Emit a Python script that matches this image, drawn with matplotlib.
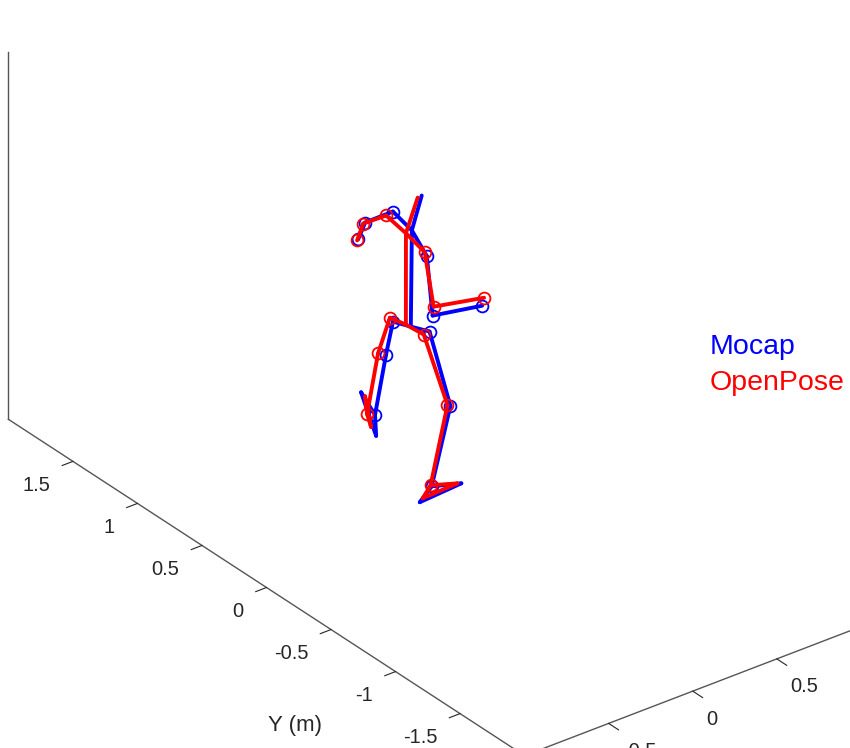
import numpy as np
import matplotlib
matplotlib.use('Agg')
import matplotlib.pyplot as plt
from matplotlib.lines import Line2D
from mpl_toolkits.mplot3d import proj3d

plt.rcParams['font.family'] = ['Liberation Sans', 'DejaVu Sans']
plt.rcParams['axes.unicode_minus'] = False

# joints: head, neck, L shoulder, L elbow, L wrist, R shoulder, R elbow, R wrist,
#         hip centre, L hip, L knee, L ankle, L toe, L heel, R hip, R knee, R ankle, R toe, R heel
mocap_x = [0.019, 0.014, 0.051, 0.074, 0.162, -0.025, -0.029, 0.245, 0.037, -0.001,
           0.152, 0.207, 0.296, 0.176, 0.100, 0.204, 0.115, 0.296, 0.032]
mocap_y = [0.125, 0.195, 0.390, 0.635, 0.804, 0.028, -0.022, -0.049, 0.233, 0.322,
           0.575, 0.732, 0.956, 0.683, 0.170, 0.144, 0.173, 0.179, 0.157]
mocap_z = [1.72, 1.50, 1.50, 1.32, 1.12, 1.45, 1.15, 1.12, 0.95, 0.95,
           0.60, 0.18, 0.17, 0.10, 0.93, 0.50, 0.08, 0.03, 0.03]

openpose_x = [-0.008, -0.025, 0.003, 0.061, 0.152, -0.010, 0.026, 0.298, 0.030, 0.010,
              0.129, 0.183, 0.288, 0.208, 0.061, 0.199, 0.117, 0.281, 0.066]
openpose_y = [0.121, 0.190, 0.380, 0.633, 0.799, 0.064, 0.042, 0.005, 0.262, 0.360,
              0.607, 0.762, 0.915, 0.764, 0.164, 0.160, 0.184, 0.190, 0.178]
openpose_z = [1.72, 1.50, 1.50, 1.32, 1.12, 1.45, 1.15, 1.12, 0.95, 0.95,
              0.60, 0.18, 0.17, 0.10, 0.93, 0.50, 0.08, 0.03, 0.03]

bones = [(0, 1), (1, 2), (2, 3), (3, 4), (1, 5), (5, 6), (6, 7), (1, 8), (8, 9), (8, 14),
         (9, 10), (10, 11), (11, 12), (12, 13), (13, 11),
         (14, 15), (15, 16), (16, 17), (17, 18), (18, 16)]
marked_joints = [2, 3, 4, 5, 6, 7, 9, 10, 11, 14, 15, 16]

x_ticks = [-0.5, 0, 0.5]
x_tick_labels = ['-0.5', '0', '0.5']
y_ticks = [-1.5, -1, -0.5, 0, 0.5, 1, 1.5]
y_tick_labels = ['-1.5', '-1', '-0.5', '0', '0.5', '1', '1.5']
z_ticks = [0, 0.5, 1, 1.5, 2]

series = [('Mocap', mocap_x, mocap_y, mocap_z, 'blue'),
          ('OpenPose', openpose_x, openpose_y, openpose_z, 'red')]

W, H = 850, 748
fig = plt.figure(figsize=(W / 100, H / 100), dpi=100)
ax = fig.add_axes([0.1, 0.1, 0.8, 0.8], projection='3d')
ax.computed_zorder = False

for name, xs, ys, zs, color in series:
    for i, j in bones:
        ax.plot([xs[i], xs[j]], [ys[i], ys[j]], [zs[i], zs[j]], color=color, lw=2.8,
                solid_capstyle='round')
    ax.plot([xs[k] for k in marked_joints], [ys[k] for k in marked_joints],
            [zs[k] for k in marked_joints], 'o', ls='none', ms=8.5, mfc='none',
            mec=color, mew=1.3)

ax.set_proj_type('ortho')
ax.view_init(elev=30, azim=-127.5)
ax.set_xlim(-1, 1)
ax.set_ylim(-2, 2)
ax.set_zlim(0, 2)
ax.set_box_aspect((2, 4, 2))

ax.set_xticks(x_ticks)
ax.set_xticklabels(x_tick_labels, ha='left')
ax.set_yticks(y_ticks)
ax.set_yticklabels(y_tick_labels, ha='right', va='bottom')
ax.set_zticks(z_ticks)
ax.tick_params(axis='both', labelsize=14.5, colors='#262626')
ax.xaxis.set_tick_params(pad=2)
ax.yaxis.set_tick_params(pad=17.5)
ax.grid(False)
for axis in (ax.xaxis, ax.yaxis, ax.zaxis):
    axis.set_pane_color((1, 1, 1, 0))
    axis.pane.set_edgecolor('none')
    axis.line.set_color('#555555')
    axis.line.set_linewidth(1.0)
    axis._axinfo['tick']['outward_factor'] = 0.0
ax.xaxis._axinfo['tick']['inward_factor'] = 0.24
ax.yaxis._axinfo['tick']['inward_factor'] = 0.4
ax.zaxis._axinfo['tick']['inward_factor'] = 0.0

# the y label sits below the axis, unrotated, as in the original figure
fig.text(295 / W, 1 - 726 / H, 'Y (m)', ha='center', va='center', fontsize=16,
         color='#262626')

fig.legend(handles=[Line2D([], [], color=c) for _, _, _, _, c in series],
           labels=[s[0] for s in series], loc='center left',
           bbox_to_anchor=(0.835, 0.512), frameon=False, handlelength=0,
           handletextpad=0, borderpad=0, borderaxespad=0, labelcolor='linecolor',
           fontsize=20.5, labelspacing=0.32)

# move the axes so the floor corners sit where they are in the reference
fig.canvas.draw()
M = ax.get_proj()


def to_px(x, y, z):
    px, py, _ = proj3d.proj_transform(x, y, z, M)
    return np.array(ax.transData.transform((px, py)))


a_px = to_px(-1, 2, 0)
b_px = to_px(-1, -2, 0)
target_a = np.array([8.0, H - 420.0])
target_b = np.array([525.0, H - 755.0])
box = ax.bbox
c0 = np.array([(box.x0 + box.x1) / 2, (box.y0 + box.y1) / 2])
L0 = box.width
k = np.linalg.norm(target_b - target_a) / np.linalg.norm(b_px - a_px)
L = L0 * k
c = ((target_a - L * (a_px - c0) / L0) + (target_b - L * (b_px - c0) / L0)) / 2
ax.set_position([(c[0] - L / 2) / W, (c[1] - L / 2) / H, L / W, L / H])

fig.savefig('out.png', dpi=100, facecolor='white')
